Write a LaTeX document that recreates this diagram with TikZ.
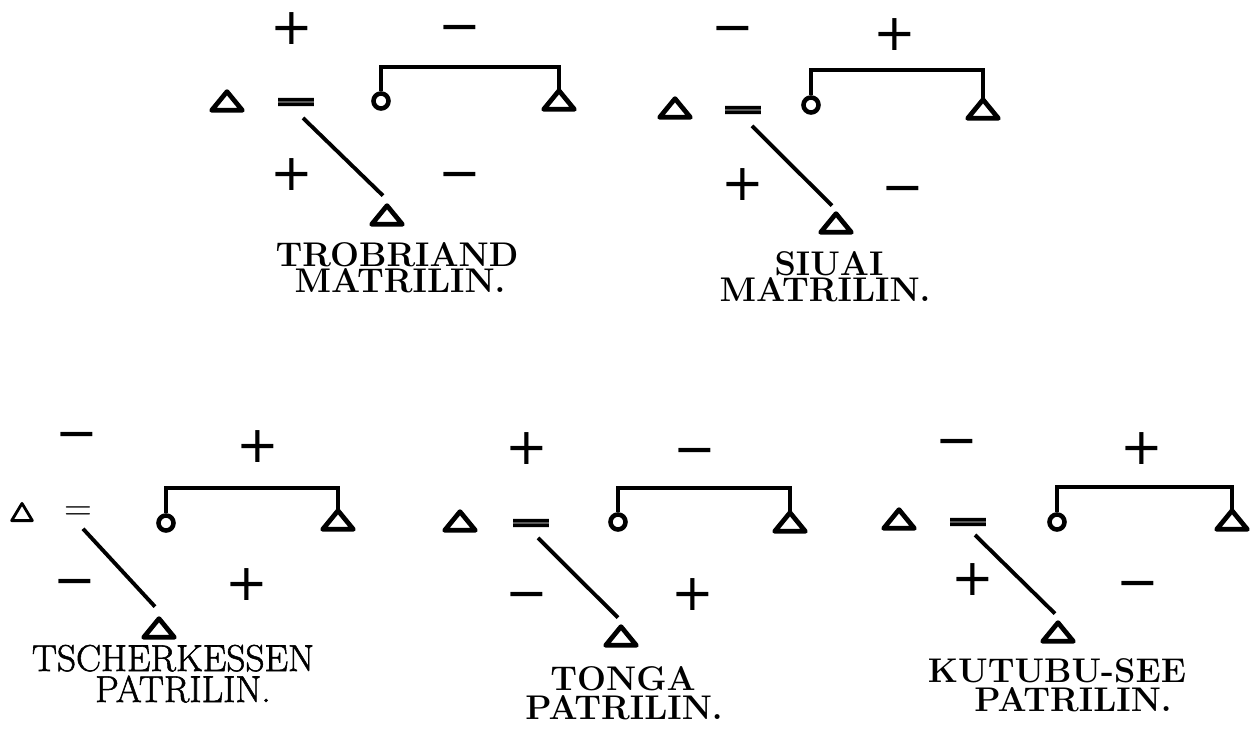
\documentclass[tikz,border=0pt]{standalone}
\usepackage{fontspec}
\usepackage{graphicx}
\newfontfamily\signfont{DejaVu Sans}
\newfontfamily\eqfont[FakeBold=8]{DejaVu Sans}
\newfontfamily\lightlbl[FakeBold=1.5]{Latin Modern Roman}
\usetikzlibrary{calc}

% flattened, heavy equals sign used between spouses
\newcommand\flateq{\scalebox{1}[0.45]{=}}

\tikzset{
  kintri/.style={inner sep=0pt, minimum width=0.60cm, minimum height=0.36cm},
  kintrismall/.style={inner sep=0pt, minimum width=0.40cm, minimum height=0.33cm},
  tristroke/.style={line width=2.7pt, line join=round},
  tristrokethin/.style={line width=1.6pt, line join=round},
  kincircle/.style={circle, draw, line width=2.6pt, inner sep=0pt, minimum size=0.30cm},
  sign/.style={inner sep=0pt, font=\signfont\fontsize{29}{29}\selectfont, text height=20.3pt, text depth=0pt},
  eqsign/.style={inner sep=0pt, yshift=-1.7pt, font=\eqfont\fontsize{29}{29}\selectfont},
  eqthin/.style={inner sep=0pt, yshift=-1pt, font=\fontsize{22}{22}\selectfont},
  bracket/.style={line width=2.5pt},
  diag/.style={line width=2.2pt},
  lbl/.style={inner sep=0pt, anchor=base, font=\bfseries\fontsize{19.5}{19.5}\selectfont},
  lbllight/.style={inner sep=0pt, anchor=base, font=\lightlbl\fontsize{21.3}{21.3}\selectfont}
}

\begin{document}
\begin{tikzpicture}[x=0.02cm, y=-0.02cm]
\fill[white] (0,0) rectangle (1257,746);
\useasboundingbox (0,0) rectangle (1257,746);

% ---------- Trobriand, matrilineal ----------
\node[kintri] (l1) at (227,101) {};
\node[eqsign] (eq1) at (296,101) {\flateq};
\node[kincircle] (c1) at (381,101) {};
\node[kintri] (r1) at (559,100) {};
\node[kintri] (b1) at (387,215) {};
\node[sign] (s1a) at (292,27) {+};
\node[sign] (s1b) at (460,26) {−};
\node[sign] (s1c) at (292,173) {+};
\node[sign] (s1d) at (460,173) {−};
\coordinate (k1) at (470,67);
\draw[bracket] (c1.north) |- (k1) -| (r1.north);
\draw[diag] ($(eq1)+(7,14)$) -- ($(b1.north)+(-4,-10)$);
\node[lbl] (n1a) at (397,267) {TROBRIAND};
\node[lbl] (n1b) at (400,293) {MATRILIN.};

% ---------- Siuai, matrilineal ----------
\node[kintri] (l2) at (675,108) {};
\node[eqsign] (eq2) at (743,109) {\flateq};
\node[kincircle] (c2) at (811,105) {};
\node[kintri] (r2) at (983,109) {};
\node[kintri] (b2) at (836,223) {};
\node[sign] (s2a) at (733,27) {−};
\node[sign] (s2b) at (895,33) {+};
\node[sign] (s2c) at (743,183) {+};
\node[sign] (s2d) at (903,187) {−};
\coordinate (k2) at (900,70);
\draw[bracket] (c2.north) |- (k2) -| (r2.north);
\draw[diag] ($(eq2)+(9,14)$) -- ($(b2.north)+(-4,-8)$);
\node[lbl] (n2a) at (829,276) {SIUAI};
\node[lbl] (n2b) at (825,302) {MATRILIN.};

% ---------- Tscherkessen, patrilineal ----------
\node[kintrismall] (l3) at (22,512) {};
\node[eqthin] (eq3) at (78,512) {=};
\node[kincircle] (c3) at (166,523) {};
\node[kintri] (r3) at (338,520) {};
\node[kintri] (b3) at (159,628) {};
\node[sign] (s3a) at (77,433) {−};
\node[sign] (s3b) at (258,445) {+};
\node[sign] (s3c) at (75,580) {−};
\node[sign] (s3d) at (247,583) {+};
\coordinate (k3) at (250,488);
\draw[bracket] (c3.north) |- (k3) -| (r3.north);
\draw[diag] ($(eq3)+(5,15)$) -- ($(b3.north)+(-4,-12)$);
\node[lbllight] (n3a) at (173,671) {TSCHERKESSEN};
\node[lbllight] (n3b) at (183,702) {PATRILIN.};

% ---------- Tonga, patrilineal ----------
\node[kintri] (l4) at (460,521) {};
\node[eqsign] (eq4) at (531,522) {\flateq};
\node[kincircle] (c4) at (618,522) {};
\node[kintri] (r4) at (790,522) {};
\node[kintri] (b4) at (621,636) {};
\node[sign] (s4a) at (527,447) {+};
\node[sign] (s4b) at (695,449) {−};
\node[sign] (s4c) at (527,593) {−};
\node[sign] (s4d) at (693,593) {+};
\coordinate (k4) at (700,488);
\draw[bracket] (c4.north) |- (k4) -| (r4.north);
\draw[diag] ($(eq4)+(7,13)$) -- ($(b4.north)+(-3,-9)$);
\node[lbl] (n4a) at (623,690) {TONGA};
\node[lbl] (n4b) at (624,719) {PATRILIN.};

% ---------- Kutubu-See, patrilineal ----------
\node[kintri] (l5) at (899,519) {};
\node[eqsign] (eq5) at (968,521) {\flateq};
\node[kincircle] (c5) at (1057,522) {};
\node[kintri] (r5) at (1232,520) {};
\node[kintri] (b5) at (1058,632) {};
\node[sign] (s5a) at (957,440) {−};
\node[sign] (s5b) at (1142,447) {+};
\node[sign] (s5c) at (973,578) {+};
\node[sign] (s5d) at (1138,582) {−};
\coordinate (k5) at (1140,487);
\draw[bracket] (c5.north) |- (k5) -| (r5.north);
\draw[diag] ($(eq5)+(7,11)$) -- ($(b5.north)+(-3,-9)$);
\node[lbl] (n5a) at (1057,682) {KUTUBU-SEE};
\node[lbl] (n5b) at (1073,711) {PATRILIN.};

% triangle outlines drawn inside their nodes
\foreach \t in {l1,r1,b1,l2,r2,b2,r3,b3,l4,r4,b4,l5,r5,b5}
  \draw[tristroke] (\t.north) -- (\t.south east) -- (\t.south west) -- cycle;
\draw[tristrokethin] (l3.north) -- (l3.south east) -- (l3.south west) -- cycle;
\end{tikzpicture}
\end{document}
